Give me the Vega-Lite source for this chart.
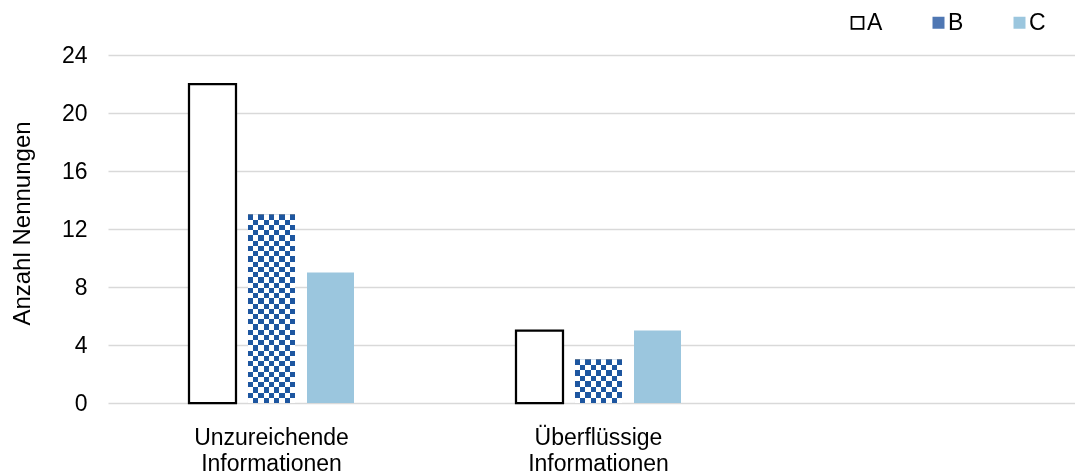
{
  "$schema": "https://vega.github.io/schema/vega-lite/v6.json",
  "autosize": {"type": "none"},
  "padding": {"left": 108, "top": 55, "right": 0, "bottom": 72},
  "width": 967,
  "height": 348,
  "background": "#ffffff",
  "config": {
    "view": {"stroke": null},
    "font": "Liberation Sans",
    "axis": {"labelFont": "Liberation Sans", "titleFont": "Liberation Sans", "labelColor": "#000000", "titleColor": "#000000"},
    "legend": {"labelFont": "Liberation Sans", "labelColor": "#000000"}
  },
  "data": {
    "values": [
      {"cat": "Unzureichende Informationen", "k": "A", "v": 22},
      {"cat": "Unzureichende Informationen", "k": "B", "v": 13},
      {"cat": "Unzureichende Informationen", "k": "C", "v": 9},
      {"cat": "Überflüssige Informationen", "k": "A", "v": 5},
      {"cat": "Überflüssige Informationen", "k": "B", "v": 3},
      {"cat": "Überflüssige Informationen", "k": "C", "v": 5}
    ]
  },
  "encoding": {
    "x": {
      "field": "cat", "type": "nominal", "sort": null,
      "scale": {"domain": ["Unzureichende Informationen", "Überflüssige Informationen", " "], "range": [0, 981], "paddingInner": 0.4954, "paddingOuter": 0.2477},
      "axis": {"title": null, "domain": false, "ticks": false, "labelAngle": 0, "labelFontSize": 23, "labelLineHeight": 26, "labelBaseline": "top", "labelPadding": 23, "labelExpr": "split(datum.label, ' ')"}
    },
    "xOffset": {
      "field": "k", "type": "nominal",
      "scale": {"domain": ["A", "B", "C"], "paddingInner": 0.2034, "paddingOuter": 0}
    },
    "y": {
      "field": "v", "type": "quantitative",
      "scale": {"domain": [0, 24], "nice": false},
      "axis": {"title": "Anzahl Nennungen", "titleFontSize": 24, "titleFontWeight": "normal", "titlePadding": 27, "titleY": 168, "values": [0, 4, 8, 12, 16, 20, 24], "domain": false, "ticks": false, "labelFontSize": 23, "labelPadding": 21, "gridColor": "#d9d9d9", "gridWidth": 1.5}
    }
  },
  "layer": [
    {
      "mark": {"type": "bar", "strokeWidth": 2.25},
      "encoding": {
        "fill": {
          "field": "k", "type": "nominal",
          "scale": {"domain": ["A", "B", "C"], "range": ["#ffffff", "#4f77b3", "#9bc6de"]},
          "legend": {"orient": "none", "legendX": 738, "legendY": -44, "direction": "horizontal", "title": null, "symbolType": "square", "symbolSize": 144, "symbolStrokeWidth": 1.75, "labelFontSize": 23, "columnPadding": 44, "labelOffset": -2, "padding": 0}
        },
        "stroke": {
          "field": "k", "type": "nominal",
          "scale": {"domain": ["A", "B", "C"], "range": ["#000000", "transparent", "transparent"]},
          "legend": {"orient": "none", "legendX": 738, "legendY": -44, "direction": "horizontal", "title": null, "symbolType": "square", "symbolSize": 144, "symbolStrokeWidth": 1.75, "labelFontSize": 23, "columnPadding": 44, "labelOffset": -2, "padding": 0}
        }
      }
    },
    {
      "transform": [{"filter": "datum.k === 'B'"}],
      "mark": {"type": "bar", "fill": {"gradient": "linear", "x1": 0, "y1": 0, "x2": 1, "y2": 0, "stops": [
        {"offset": 0, "color": "#000"}, {"offset": 0.1111, "color": "#000"},
        {"offset": 0.1111, "color": "#fff"}, {"offset": 0.2222, "color": "#fff"},
        {"offset": 0.2222, "color": "#000"}, {"offset": 0.3333, "color": "#000"},
        {"offset": 0.3333, "color": "#fff"}, {"offset": 0.4444, "color": "#fff"},
        {"offset": 0.4444, "color": "#000"}, {"offset": 0.5556, "color": "#000"},
        {"offset": 0.5556, "color": "#fff"}, {"offset": 0.6667, "color": "#fff"},
        {"offset": 0.6667, "color": "#000"}, {"offset": 0.7778, "color": "#000"},
        {"offset": 0.7778, "color": "#fff"}, {"offset": 0.8889, "color": "#fff"},
        {"offset": 0.8889, "color": "#000"}, {"offset": 1, "color": "#000"}
      ]}},
      "encoding": {}
    },
    {
      "transform": [{"filter": "datum.k === 'B'"}],
      "mark": {"type": "bar", "blend": "difference"},
      "encoding": {
        "fill": {
          "condition": {"test": "datum.v > 5", "value": {"gradient": "linear", "x1": 0, "y1": 0, "x2": 0, "y2": 1, "stops": [
            {"offset": 0, "color": "#000"}, {"offset": 0.0278, "color": "#000"},
            {"offset": 0.0278, "color": "#fff"}, {"offset": 0.0556, "color": "#fff"},
            {"offset": 0.0556, "color": "#000"}, {"offset": 0.0833, "color": "#000"},
            {"offset": 0.0833, "color": "#fff"}, {"offset": 0.1111, "color": "#fff"},
            {"offset": 0.1111, "color": "#000"}, {"offset": 0.1389, "color": "#000"},
            {"offset": 0.1389, "color": "#fff"}, {"offset": 0.1667, "color": "#fff"},
            {"offset": 0.1667, "color": "#000"}, {"offset": 0.1944, "color": "#000"},
            {"offset": 0.1944, "color": "#fff"}, {"offset": 0.2222, "color": "#fff"},
            {"offset": 0.2222, "color": "#000"}, {"offset": 0.25, "color": "#000"},
            {"offset": 0.25, "color": "#fff"}, {"offset": 0.2778, "color": "#fff"},
            {"offset": 0.2778, "color": "#000"}, {"offset": 0.3056, "color": "#000"},
            {"offset": 0.3056, "color": "#fff"}, {"offset": 0.3333, "color": "#fff"},
            {"offset": 0.3333, "color": "#000"}, {"offset": 0.3611, "color": "#000"},
            {"offset": 0.3611, "color": "#fff"}, {"offset": 0.3889, "color": "#fff"},
            {"offset": 0.3889, "color": "#000"}, {"offset": 0.4167, "color": "#000"},
            {"offset": 0.4167, "color": "#fff"}, {"offset": 0.4444, "color": "#fff"},
            {"offset": 0.4444, "color": "#000"}, {"offset": 0.4722, "color": "#000"},
            {"offset": 0.4722, "color": "#fff"}, {"offset": 0.5, "color": "#fff"},
            {"offset": 0.5, "color": "#000"}, {"offset": 0.5278, "color": "#000"},
            {"offset": 0.5278, "color": "#fff"}, {"offset": 0.5556, "color": "#fff"},
            {"offset": 0.5556, "color": "#000"}, {"offset": 0.5833, "color": "#000"},
            {"offset": 0.5833, "color": "#fff"}, {"offset": 0.6111, "color": "#fff"},
            {"offset": 0.6111, "color": "#000"}, {"offset": 0.6389, "color": "#000"},
            {"offset": 0.6389, "color": "#fff"}, {"offset": 0.6667, "color": "#fff"},
            {"offset": 0.6667, "color": "#000"}, {"offset": 0.6944, "color": "#000"},
            {"offset": 0.6944, "color": "#fff"}, {"offset": 0.7222, "color": "#fff"},
            {"offset": 0.7222, "color": "#000"}, {"offset": 0.75, "color": "#000"},
            {"offset": 0.75, "color": "#fff"}, {"offset": 0.7778, "color": "#fff"},
            {"offset": 0.7778, "color": "#000"}, {"offset": 0.8056, "color": "#000"},
            {"offset": 0.8056, "color": "#fff"}, {"offset": 0.8333, "color": "#fff"},
            {"offset": 0.8333, "color": "#000"}, {"offset": 0.8611, "color": "#000"},
            {"offset": 0.8611, "color": "#fff"}, {"offset": 0.8889, "color": "#fff"},
            {"offset": 0.8889, "color": "#000"}, {"offset": 0.9167, "color": "#000"},
            {"offset": 0.9167, "color": "#fff"}, {"offset": 0.9444, "color": "#fff"},
            {"offset": 0.9444, "color": "#000"}, {"offset": 0.9722, "color": "#000"},
            {"offset": 0.9722, "color": "#fff"}, {"offset": 1, "color": "#fff"}
          ]}},
          "value": {"gradient": "linear", "x1": 0, "y1": 0, "x2": 0, "y2": 1, "stops": [
            {"offset": 0, "color": "#000"}, {"offset": 0.125, "color": "#000"},
            {"offset": 0.125, "color": "#fff"}, {"offset": 0.25, "color": "#fff"},
            {"offset": 0.25, "color": "#000"}, {"offset": 0.375, "color": "#000"},
            {"offset": 0.375, "color": "#fff"}, {"offset": 0.5, "color": "#fff"},
            {"offset": 0.5, "color": "#000"}, {"offset": 0.625, "color": "#000"},
            {"offset": 0.625, "color": "#fff"}, {"offset": 0.75, "color": "#fff"},
            {"offset": 0.75, "color": "#000"}, {"offset": 0.875, "color": "#000"},
            {"offset": 0.875, "color": "#fff"}, {"offset": 1, "color": "#fff"}
          ]}
        }
      }
    },
    {
      "transform": [{"filter": "datum.k === 'B'"}],
      "mark": {"type": "bar", "fill": "#1d56a0", "blend": "screen"},
      "encoding": {}
    }
  ]
}
